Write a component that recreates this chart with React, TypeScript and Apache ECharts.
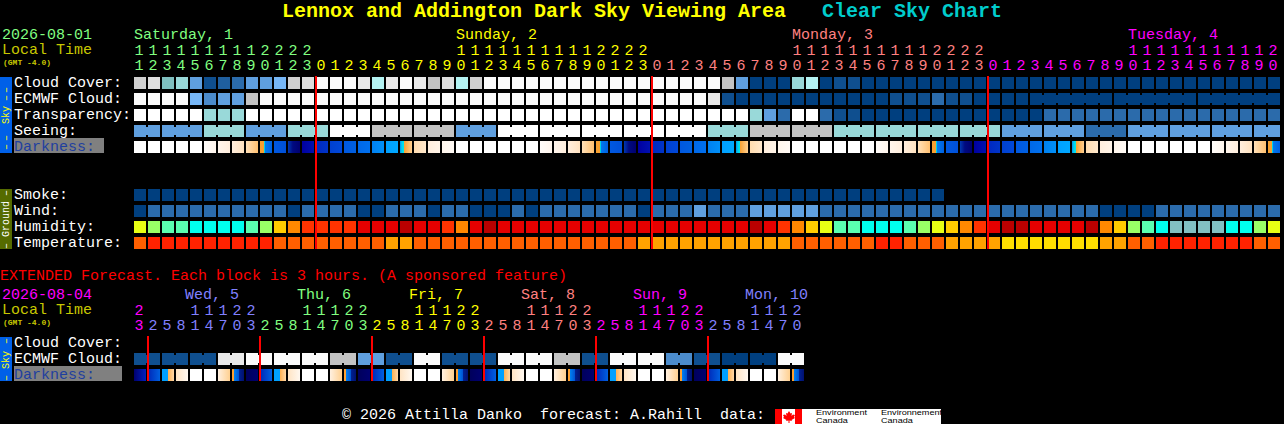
import React, { useEffect, useRef } from "react";
import * as echarts from "echarts";

const MONO = '"Liberation Mono"';

// ---------- text ----------
const titleMain = "Lennox and Addington Dark Sky Viewing Area";
const titleSide = "Clear Sky Chart";
const rowLabelsMain = ["Cloud Cover:", "ECMWF Cloud:", "Transparency:", "Seeing:", "Darkness:", "", "", "Smoke:", "Wind:", "Humidity:", "Temperature:"];
const rowLabelsExt = ["Cloud Cover:", "ECMWF Cloud:", "Darkness:"];

// ---------- hours (main chart: one block per hour) ----------
const hoursMain = [11, 12, 13, 14, 15, 16, 17, 18, 19, 20, 21, 22, 23,
  0, 1, 2, 3, 4, 5, 6, 7, 8, 9, 10, 11, 12, 13, 14, 15, 16, 17, 18, 19, 20, 21, 22, 23,
  0, 1, 2, 3, 4, 5, 6, 7, 8, 9, 10, 11, 12, 13, 14, 15, 16, 17, 18, 19, 20, 21, 22, 23,
  0, 1, 2, 3, 4, 5, 6, 7, 8, 9, 10, 11, 12, 13, 14, 15, 16, 17, 18, 19, 20];
const hoursExt = [23,
  2, 5, 8, 11, 14, 17, 20, 23, 2, 5, 8, 11, 14, 17, 20, 23,
  2, 5, 8, 11, 14, 17, 20, 23, 2, 5, 8, 11, 14, 17, 20, 23,
  2, 5, 8, 11, 14, 17, 20, 23, 2, 5, 8, 11, 14, 17, 20];

const SAT = "#80ff80", SUN = "#ffff00", MON = "#ff8080", TUE = "#ff00ff", WED = "#8080ff";
const dayRunsMain: [number, string][] = [[13, SAT], [24, SUN], [24, MON], [21, TUE]];
const dayRunsExt: [number, string][] = [[1, TUE], [8, WED], [8, SAT], [8, SUN], [8, MON], [8, TUE], [7, WED]];
const dayLabelsMain: [number, string, string][] = [[0, "Saturday, 1", SAT], [23, "Sunday, 2", SUN], [47, "Monday, 3", MON], [71, "Tuesday, 4", TUE]];
const dayLabelsExt: [number, string, string][] = [[4, "Wed, 5", WED], [12, "Thu, 6", SAT], [20, "Fri, 7", SUN], [28, "Sat, 8", MON], [36, "Sun, 9", TUE], [44, "Mon, 10", WED]];
const midnightsMain = [13, 37, 61];
const midnightsExt = [1, 9, 17, 25, 33, 41];

// ---------- colour scales ----------
const skyColors = ["#003f7f", "#0f4f8f", "#1f5f9f", "#2b6bab", "#4b8bcb", "#5f9fdf", "#77b7f7", "#7fbfbf", "#99d9d9", "#b3f3f3", "#c3c3c3", "#d0d0d0", "#dedede", "#e9e9e9", "#fbfbfb", "#ffffff"];
const humidityColors = ["#82c0c2", "#00ffee", "#5affb0", "#99ff66", "#e8ff14", "#ffcc00", "#ff8800", "#ff3300", "#e60000", "#b90000"];
const temperatureColors = ["#ff2200", "#ff5f00", "#ffa200", "#ffdd00"];

// ---------- main chart values ----------
const cloudMain = [11, 12, 7, 8, 5, 1, 2, 3, 5, 5, 6, 11, 12,
  14, 14, 14, 13, 9, 13, 14, 13, 10, 12, 9, 11,
  14, 14, 14, 14, 14, 14, 14, 14, 14, 14, 14, 14, 14, 14, 14, 14, 14,
  10, 5, 0, 0, 0, 8, 9, 0, 1, 1,
  0, 0, 0, 0, 0, 0, 0, 0, 0, 0, 0, 0, 0, 0, 0, 0, 0, 0, 0, 0, 0, 0, 0, 0, 0, 0, 0, 0, 0, 0];
const ecmwfMain = [14, 14, 14, 14, 6, 4, 5, 5, 10,
  14, 14, 14, 14, 14, 14, 14, 14, 14, 14, 14, 14, 14, 14, 14, 14, 14, 14, 14, 14, 14, 14, 14, 14, 14, 14, 14, 14, 14, 14, 14, 14,
  13, 1, 0, 0, 0, 0, 0, 0, 0, 0, 0, 0, 0, 1, 1, 1, 3, 1, 1, 0, 0, 0, 0,
  0, 0, 0, 0, 0, 0, 0, 0, 0, 0, 0, 0, 0, 0, 0, 0, 0, 0];
const ecmwfMainBlocks: [number, number][] = [[64, 6], [70, 6], [76, 6]];
const transparencyMain = [15, 15, 15, 15, 15, 8, 8, 8,
  15, 15, 15, 15, 15, 15, 15, 15, 15, 15, 15, 15, 15, 15, 15, 15, 15, 15, 15, 15, 15, 15, 15, 15, 15, 15, 15, 15, 15, 15, 15, 15, 15, 15, 15, 15,
  8, 5, 3, 15, 15, 3, 1, 1,
  0, 0, 0, 0, 0, 0, 0, 0, 0, 0, 0, 0, 0,
  3, 3, 3, 3, 3, 3, 3, 3, 3, 3, 3, 3, 3, 3, 3, 3, 3];
const seeingBlockLengths = [2, 3, 3, 3, 3, 3, 3, 3, 3, 3, 3, 3, 3, 3, 3, 3, 3, 3, 3, 3, 3, 3, 3, 3, 3, 3, 3, 2];
const seeingBlockValues = [5, 5, 8, 5, 8, 15, 10, 10, 5, 15, 15, 15, 15, 15, 8, 10, 10, 8, 8, 8, 8, 5, 5, 3, 5, 5, 5, 5];
const darknessMain = [0, 0, 0, 0, 0,
  1, 2, 3, 4, 5, 6, 7, 8, 9, 10, 11, 12, 13, 14, 15, 16, 17, 18, 0, 0, 0, 0, 0, 0,
  1, 2, 3, 4, 5, 6, 7, 8, 9, 10, 11, 12, 13, 14, 15, 16, 17, 18, 0, 0, 0, 0, 0, 0,
  1, 2, 3, 4, 5, 6, 7, 8, 9, 10, 11, 12, 13, 14, 15, 16, 17, 18, 0, 0, 0, 0, 0, 0,
  1, 2, 3, 4, 5];
const smokeMain = [0, 0, 0, 0, 0, 0, 0, 0, 0, 0, 0, 0, 0, 0, 0, 0, 0, 0, 0, 0, 0, 0, 0, 0, 0, 0, 0, 0, 0,
  0, 0, 0, 0, 0, 0, 0, 0, 0, 0, 0, 0, 0, 0, 0, 0, 0, 0, 0, 0, 0, 0, 0, 0, 0, 0, 0, 0, 0];
const windMain = [0, 3, 3, 3, 3, 3, 3, 3, 3, 3, 3, 0, 3, 3, 3, 3, 0, 0, 3, 3, 3, 0, 3, 3, 0, 0, 0, 3, 0,
  3, 3, 3, 3, 3, 3, 3, 0, 3, 3, 3, 5, 3, 3, 3, 5, 5, 5, 5, 5,
  3, 3, 3, 3, 3, 3, 3, 3, 3, 3, 3, 3, 3, 3, 3, 3, 3, 3, 3, 3, 0, 0, 0, 0, 3, 3, 3, 3, 3, 3, 3, 3, 3];
const humidityMain = [4, 3, 2, 2, 1, 1, 1, 1, 2, 3, 5, 6, 7, 7, 7, 7, 8, 8, 8, 9, 8, 8, 7, 6, 8, 9,
  8, 8, 8, 8, 8, 8, 8, 8, 8, 8, 8, 8, 8, 8, 8, 8, 8, 8,
  9, 8, 7, 6, 5, 4, 2, 2, 1, 1, 1, 2, 3, 4, 5, 6, 7, 8, 9, 9, 8, 8, 8, 8, 9, 6, 5, 3, 2, 1, 0, 0, 0, 0, 1, 1, 3, 4];
const temperatureMain = [1, 0, 0, 0, 0, 0, 0, 0, 0, 0, 1, 1, 1, 1, 1, 1, 1, 1, 2, 2,
  1, 1, 1, 1, 1, 1, 1, 1, 1, 1, 1, 1, 1, 1, 1, 1,
  2, 2, 2, 2, 2, 2, 2, 2, 2, 2, 2, 1, 1, 1, 1, 1, 1, 0, 0, 1, 1, 1, 2, 2, 2, 2,
  3, 3, 3, 3, 3, 3, 3, 2, 2, 1, 1, 0, 0, 0, 0, 0, 0, 0, 1, 1];

// ---------- extended chart values (3 hours per block; cloud is forecast in pairs) ----------
const ecmwfExtPairs = [1, 1, 1, 13, 14, 14, 14, 10, 5, 1, 14, 1, 1, 14, 14, 10, 1, 14, 14, 4, 1, 0, 0, 14];
const darknessExt = [19,
  20, 21, 22, 0, 0, 23, 24, 25, 20, 21, 22, 0, 0, 23, 24, 25,
  20, 21, 22, 0, 0, 23, 24, 25, 20, 21, 22, 0, 0, 23, 24, 25,
  20, 21, 22, 0, 0, 23, 24, 25, 20, 21, 22, 0, 0, 23, 24];

// Horizontal colour runs of the twilight scale, [offset, colour]
const darknessScale: [number, string][][] = [
  [[0, "#ffffff"], [1, "#ffffff"]],
  [[0, "#fffcf9"], [1, "#fff5ec"]],
  [[0, "#fff5ec"], [1, "#ffeedd"]],
  [[0, "#ffeedd"], [1, "#ffe2c0"]],
  [[0, "#ffe0b8"], [1, "#ffc070"]],
  [[0, "#f7a030"], [0.3, "#f7a030"], [0.3, "#00e0e0"], [0.45, "#00c8e8"], [0.45, "#0078f0"], [1, "#0060e0"]],
  [[0, "#0058e0"], [1, "#0050d8"]],
  [[0, "#0038b0"], [0.4, "#000a80"], [1, "#000070"]],
  [[0, "#0000a0"], [1, "#0010b0"]],
  [[0, "#0028c0"], [1, "#0034c8"]],
  [[0, "#0040d0"], [1, "#0048d8"]],
  [[0, "#0058e0"], [1, "#0060e0"]],
  [[0, "#0068e8"], [1, "#0070ee"]],
  [[0, "#0080f0"], [1, "#0090f8"]],
  [[0, "#00a0ff"], [1, "#00a8ff"]],
  [[0, "#0090f0"], [0.15, "#00d0f0"], [0.33, "#00e8e8"], [0.33, "#f8a030"], [1, "#ffcf90"]],
  [[0, "#ffdcb0"], [1, "#ffe8cc"]],
  [[0, "#ffeedd"], [1, "#fff4e8"]],
  [[0, "#fff6ec"], [1, "#fffaf5"]],
  [[0, "#000070"], [1, "#0020c0"]],
  [[0, "#0028b8"], [1, "#0060e0"]],
  [[0, "#00a0ff"], [0.5, "#00a0ff"], [0.5, "#ffb050"], [1, "#ffd8a8"]],
  [[0, "#ffe4c4"], [1, "#fff8f0"]],
  [[0, "#fff0e0"], [1, "#ffd090"]],
  [[0, "#ffa030"], [0.18, "#ffa030"], [0.18, "#0080f0"], [0.6, "#0050d0"], [0.6, "#002090"], [1, "#001070"]],
  [[0, "#00005c"], [1, "#000070"]],
];

const leafOutline = [[0, -6], [1.5, -3.5], [3, -4], [2.5, -1], [4, -2.5], [6, -2], [5, 0], [6, 1], [2.5, 3], [3, 4], [0.5, 3.5], [0.5, 6], [-0.5, 6], [-0.5, 3.5], [-3, 4], [-2.5, 3], [-6, 1], [-5, 0], [-6, -2], [-4, -2.5], [-2.5, -1], [-3, -4], [-1.5, -3.5]];

// ---------- helpers that turn the lists above into drawable items ----------
type Cell = { value: [number, number]; fill: string };
const expandRuns = (runs: [number, string][]) => runs.flatMap(([n, c]) => Array.from({ length: n }, () => c));
const hourColorsMain = expandRuns(dayRunsMain);
const hourColorsExt = expandRuns(dayRunsExt);
const tens = (h: number) => (h >= 10 ? String(Math.floor(h / 10)) : "");
const ones = (h: number) => String(h % 10);

const cellsOf = (values: number[], row: number, colors: string[]): Cell[] =>
  values.map((v, i) => ({ value: [i, row] as [number, number], fill: colors[v] }));

const seeingMain = seeingBlockLengths.flatMap((n, i) => Array.from({ length: n }, () => seeingBlockValues[i]));
const seeingBlocks: [number, number][] = [];
seeingBlockLengths.reduce((start, n) => { seeingBlocks.push([start, n]); return start + n; }, 0);
const ecmwfExt = ecmwfExtPairs.flatMap((v) => [v, v]);
const ecmwfExtBlocks = ecmwfExtPairs.map((_, i) => [i * 2, 2] as [number, number]);

const joinsOf = (blocks: [number, number][], values: number[], row: number): Cell[] =>
  blocks.flatMap(([start, n]) =>
    Array.from({ length: n - 1 }, (_, k) => ({ value: [start + k, row] as [number, number], fill: skyColors[values[start + k]] })));

const cellsMain: Cell[] = [
  ...cellsOf(cloudMain, 0, skyColors),
  ...cellsOf(ecmwfMain, 1, skyColors),
  ...cellsOf(transparencyMain, 2, skyColors),
  ...cellsOf(seeingMain, 3, skyColors),
  ...cellsOf(smokeMain, 7, skyColors),
  ...cellsOf(windMain, 8, skyColors),
  ...cellsOf(humidityMain, 9, humidityColors),
  ...cellsOf(temperatureMain, 10, temperatureColors),
];
const joinsMain = [...joinsOf(ecmwfMainBlocks, ecmwfMain, 1), ...joinsOf(seeingBlocks, seeingMain, 3)];
const cellsExt = cellsOf(ecmwfExt, 1, skyColors);
const joinsExt = joinsOf(ecmwfExtBlocks, ecmwfExt, 1);

const CELL = 12;
const cellItem = (list: Cell[]) => (params: any, api: any) => {
  const p = api.coord([api.value(0), api.value(1)]);
  return { type: "rect", shape: { x: p[0] - 5, y: p[1] - 6, width: CELL, height: CELL }, style: { fill: list[params.dataIndex].fill } };
};
const joinItem = (list: Cell[]) => (params: any, api: any) => {
  const p = api.coord([api.value(0), api.value(1)]);
  return { type: "rect", shape: { x: p[0] + 7, y: p[1] - 4, width: 2, height: 8 }, style: { fill: list[params.dataIndex].fill } };
};
const darkItem = (levels: number[]) => (params: any, api: any) => {
  const p = api.coord([api.value(0), api.value(1)]);
  const stops = darknessScale[levels[params.dataIndex]].map(([offset, color]) => ({ offset, color }));
  return {
    type: "rect",
    shape: { x: p[0] - 5, y: p[1] - 6, width: CELL, height: CELL },
    style: { fill: new echarts.graphic.LinearGradient(0, 0, 1, 0, stops) },
  };
};
const midnightItem = (lastRow: number) => (_: any, api: any) => {
  const top = api.coord([api.value(0), 0]);
  const bottom = api.coord([api.value(0), lastRow]);
  return { type: "rect", shape: { x: top[0] - 6, y: top[1] - 7, width: 2, height: bottom[1] - top[1] + 13 }, style: { fill: "#ff0000" } };
};
const dayItem = (labels: [number, string, string][], shift: number) => (params: any, api: any) => {
  const p = api.coord([api.value(0), 0]);
  const [, text, fill] = labels[params.dataIndex];
  return { type: "text", x: p[0] + shift, y: p[1] - 48, style: { text, fill, font: `15px ${MONO}`, align: "left", verticalAlign: "middle" } };
};

const cust = (name: string, x: number, y: number, data: any[], renderItem: any, z: number) => ({
  type: "custom", name, xAxisIndex: x, yAxisIndex: y, data, renderItem, z, silent: true, clip: false, animation: false,
});

const hourAxis = (gridIndex: number, labels: string[], colors: string[], offset: number) => ({
  type: "category", gridIndex, position: "top", offset, data: labels,
  axisLine: { show: false }, axisTick: { show: false }, splitLine: { show: false },
  axisLabel: {
    show: true, interval: 0, margin: 2, fontFamily: MONO, fontSize: 15, lineHeight: 13,
    color: (_: any, i: number) => colors[i],
  },
});
const rowAxis = (gridIndex: number, labels: string[], darkRow: number) => ({
  type: "category", gridIndex, inverse: true, data: labels,
  axisLine: { show: false }, axisTick: { show: false }, splitLine: { show: false },
  axisLabel: {
    show: true, interval: 0, margin: 118, align: "left", fontFamily: MONO, fontSize: 15, lineHeight: 13,
    padding: [0, 0, 8, 0],
    color: (_: any, i: number) => (i === darkRow ? "#1f3f9f" : "#ffffff"),
  },
});

const txt = (text: string, x: number, y: number, fill: string, size = 15, weight = "normal") => ({
  type: "text", x, y, z: 5,
  style: { text, fill, font: `${weight} ${size}px ${MONO}`, lineHeight: 13, align: "left", verticalAlign: "middle" },
});
const strip = (y: number, h: number, fill: string) => ({ type: "rect", z: 1, shape: { x: 0, y, width: 12, height: h }, style: { fill } });
const upright = (text: string, y: number, fill: string) => ({
  type: "text", x: 6, y, rotation: Math.PI / 2, z: 5,
  style: { text, fill, font: `10px ${MONO}`, align: "center", verticalAlign: "middle" },
});
const logoText = (text: string, x: number, y: number) => ({
  type: "text", x, y, z: 5, scaleX: 1.3, scaleY: 1.1,
  style: { text, fill: "#000", font: '7px "Liberation Sans"', align: "left", verticalAlign: "middle" },
});

export default function App() {
  const ref = useRef<HTMLDivElement>(null);
  useEffect(() => {
    document.body.style.margin = "0";
    document.body.style.background = "#000";
    const chart = echarts.init(ref.current!, undefined, { renderer: "svg" });
    chart.setOption({
      animation: false,
      backgroundColor: "#000000",
      tooltip: { show: false },
      title: [
        { text: titleMain, left: 282, top: 1, padding: 0, textStyle: { color: "#ffff00", fontFamily: MONO, fontWeight: "bold", fontSize: 20 } },
        { text: titleSide, left: 822, top: 1, padding: 0, textStyle: { color: "#00cccc", fontFamily: MONO, fontWeight: "bold", fontSize: 20 } },
      ],
      grid: [
        { left: 132, top: 75, width: 14 * 82, height: 16 * 11, containLabel: false },
        { left: 132, top: 335, width: 14 * 48, height: 16 * 3, containLabel: false },
      ],
      xAxis: [
        hourAxis(0, hoursMain.map(ones), hourColorsMain, 0),
        hourAxis(0, hoursMain.map(tens), hourColorsMain, 15),
        hourAxis(1, hoursExt.map(ones), hourColorsExt, 0),
        hourAxis(1, hoursExt.map(tens), hourColorsExt, 15),
      ],
      yAxis: [rowAxis(0, rowLabelsMain, 4), rowAxis(1, rowLabelsExt, 2)],
      series: [
        cust("main cells", 0, 0, cellsMain.map((c) => c.value), cellItem(cellsMain), 2),
        cust("main joins", 0, 0, joinsMain.map((c) => c.value), joinItem(joinsMain), 2),
        cust("main darkness", 0, 0, darknessMain.map((_, i) => [i, 4]), darkItem(darknessMain), 2),
        cust("main midnights", 0, 0, midnightsMain.map((c) => [c, 0]), midnightItem(10), 4),
        cust("main days", 0, 0, dayLabelsMain.map(([c]) => [c, 0]), dayItem(dayLabelsMain, -5), 4),
        cust("ext cells", 2, 1, cellsExt.map((c) => c.value), cellItem(cellsExt), 2),
        cust("ext joins", 2, 1, joinsExt.map((c) => c.value), joinItem(joinsExt), 2),
        cust("ext darkness", 2, 1, darknessExt.map((_, i) => [i, 2]), darkItem(darknessExt), 2),
        cust("ext midnights", 2, 1, midnightsExt.map((c) => [c, 0]), midnightItem(2), 4),
        cust("ext days", 2, 1, dayLabelsExt.map(([c]) => [c, 0]), dayItem(dayLabelsExt, -10), 4),
      ],
      graphic: [
        { type: "rect", z: -1, shape: { x: 14, y: 138, width: 90, height: 15 }, style: { fill: "#808080" } },
        { type: "rect", z: -1, shape: { x: 14, y: 366, width: 108, height: 15 }, style: { fill: "#808080" } },
        strip(77, 76, "#0060e8"),
        strip(189, 60, "#556b00"),
        strip(337, 44, "#0060e8"),
        upright("\u2013", 90, "#ffff00"),
        upright("\u2013", 98, "#ffff00"),
        upright("Sky", 115, "#ffff00"),
        upright("\u2013", 138, "#ffff00"),
        upright("\u2013", 147, "#ffff00"),
        upright("\u2013", 193, "#ffffff"),
        upright("Ground", 219, "#ffffff"),
        upright("\u2013", 246, "#ffffff"),
        upright("\u2013", 341, "#ffff00"),
        upright("Sky", 360, "#ffff00"),
        upright("\u2013", 378, "#ffff00"),
        txt("2026-08-01", 2, 35, SAT),
        txt("Local Time", 2, 50, "#c8c800"),
        txt("(GMT -4.0)", 3, 62, "#c8c800", 8, "bold"),
        txt("2026-08-04", 2, 295, TUE),
        txt("Local Time", 2, 310, "#c8c800"),
        txt("(GMT -4.0)", 3, 322, "#c8c800", 8, "bold"),
        txt("EXTENDED Forecast. Each block is 3 hours. (A sponsored feature)", 0, 276, "#ff0000"),
        txt("\u00a9 2026 Attilla Danko  forecast: A.Rahill  data:", 342, 415, "#ffffff"),
        { type: "rect", z: 1, shape: { x: 775, y: 409, width: 166, height: 15 }, style: { fill: "#ffffff" } },
        { type: "rect", z: 2, shape: { x: 775, y: 409, width: 7, height: 15 }, style: { fill: "#ff0000" } },
        { type: "rect", z: 2, shape: { x: 795, y: 409, width: 7, height: 15 }, style: { fill: "#ff0000" } },
        { type: "polygon", x: 789, y: 417, z: 2, shape: { points: leafOutline }, style: { fill: "#ff0000" } },
        logoText("Environment", 816, 412.5),
        logoText("Canada", 816, 420.5),
        logoText("Environnement", 881, 412.5),
        logoText("Canada", 881, 420.5),
      ],
    });
    return () => chart.dispose();
  }, []);
  return <div ref={ref} style={{ width: 1284, height: 424, position: "absolute", left: 0, top: 0 }} />;
}
